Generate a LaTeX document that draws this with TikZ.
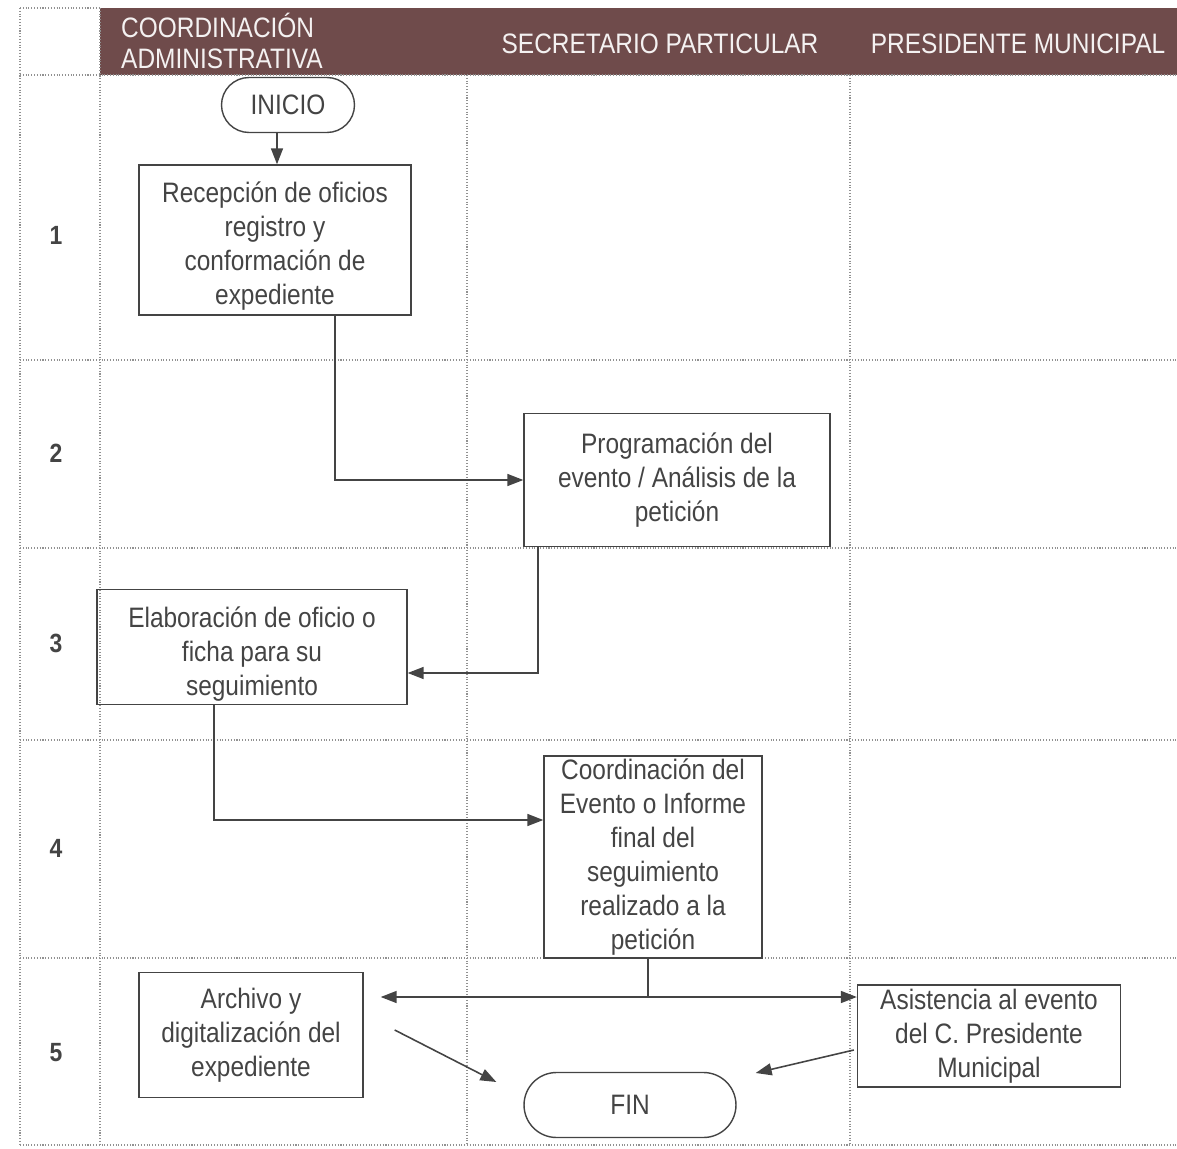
\documentclass[tikz,border=0pt]{standalone}
\usepackage{fontspec}
\setmainfont{Liberation Sans}[FakeStretch=0.87]
\usepackage{tikz}
\usetikzlibrary{arrows.meta,calc,positioning,shapes.misc}
\definecolor{cabecera}{RGB}{111,75,75}
\definecolor{tinta}{RGB}{68,68,68}
\definecolor{rejilla}{RGB}{145,145,145}

\begin{document}
\begin{tikzpicture}[x=0.02cm,y=-0.02cm,
  txt/.style={font=\fontsize{16}{19.4}\selectfont,text=tinta},
  proceso/.style={draw=tinta,line width=0.8pt,rectangle,align=center,inner sep=0pt,txt},
  terminal/.style={draw=tinta,line width=0.8pt,rounded rectangle,inner sep=0pt,txt},
  flow/.style={draw=tinta,line width=0.9pt,-{Triangle[length=0.32cm,width=0.24cm]}},
  titulo/.style={font=\fontsize{16}{17}\selectfont,text=white!92!cabecera,align=left}]
  \useasboundingbox (0,0) rectangle (1177,1149);
  \fill[cabecera] (100,8) rectangle (1177,75);
  \foreach \y in {75,360,548,740,958,1145} \draw[rejilla,densely dotted,line width=0.6pt] (20,\y) -- (1177,\y);
  \draw[rejilla,densely dotted,line width=0.6pt] (20,8) -- (100,8);
  \foreach \x in {20,100} \draw[rejilla,densely dotted,line width=0.6pt] (\x,8) -- (\x,1145);
  \foreach \x in {467,850} \draw[rejilla,densely dotted,line width=0.6pt] (\x,75) -- (\x,1145);
  \foreach \n/\y in {1/235,2/453,3/643,4/848,5/1053}
    \node[font=\fontsize{15}{15}\bfseries,text=tinta] (fila\n) at (56,\y) {\n};
  \node[titulo,anchor=west] (colcoord) at (115,41) {COORDINACIÓN\\[1pt]ADMINISTRATIVA};
  \node[titulo] (colsecre) at (660,44) {SECRETARIO PARTICULAR};
  \node[titulo] (colpresi) at (1018,44) {PRESIDENTE MUNICIPAL};

  \node[terminal,minimum width=2.66cm,minimum height=1.1cm] (inicio) at (288,105) {INICIO};
  \node[proceso,minimum width=5.44cm,minimum height=3cm] (recepcion) at (275,240)
    {\rule{0pt}{19pt}Recepción de oficios\\registro y\\conformación de\\expediente};
  \node[proceso,minimum width=6.12cm,minimum height=2.66cm] (programa) at (677,480)
    {Programación del\\evento / Análisis de la\\petición};
  \node[proceso,minimum width=6.2cm,minimum height=2.3cm] (elabora) at (252,647)
    {\rule{0pt}{20pt}Elaboración de oficio o\\ficha para su\\seguimiento};
  \node[proceso,minimum width=4.36cm,minimum height=4.04cm] (coordina) at (653,857)
    {Coordinación del\\Evento o Informe\\final del\\seguimiento\\realizado a la\\petición};
  \node[proceso,minimum width=4.48cm,minimum height=2.5cm] (archivo) at (251,1035)
    {Archivo y\\digitalización del\\expediente};
  \node[proceso,minimum width=5.26cm,minimum height=2.04cm] (asiste) at (989,1036)
    {Asistencia al evento\\del C. Presidente\\Municipal};
  \node[terminal,minimum width=4.24cm,minimum height=1.3cm] (fin) at (630,1105) {FIN};

  \draw[flow] (inicio.south -| 277,0) -- (recepcion.north -| 277,0);
  \draw[flow] (recepcion.south -| 335,0) |- (programa.west);
  \draw[flow] (programa.south -| 538,0) |- ($(elabora.east)+(0,26)$);
  \draw[flow] (elabora.south -| 214,0) |- ($(coordina.west)+(0,-37)$);
  \coordinate (reparto) at (648,997);
  \draw[draw=tinta,line width=0.9pt] (coordina.south -| reparto) -- (reparto);
  \draw[flow] (reparto) -- (asiste.west |- reparto);
  \draw[flow] (reparto) -- ($(archivo.east |- reparto)+(17,0)$);
  \draw[flow] ($(archivo.east)+(31,-5)$) -- ($(fin.west)+(-27,-23)$);
  \draw[flow] ($(asiste.west)+(-3,14)$) -- ($(fin.east)+(19,-32)$);
\end{tikzpicture}
\end{document}
